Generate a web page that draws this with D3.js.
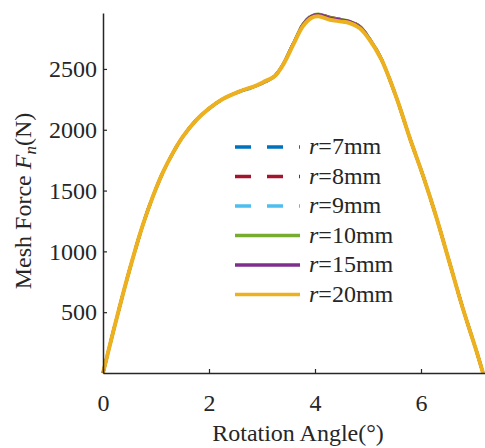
<!DOCTYPE html>
<html>
<head>
<meta charset="utf-8">
<script src="https://cdn.jsdelivr.net/npm/d3@7"></script>
<style>
  body { margin: 0; background: #fff; }
  svg text { font-family: "Liberation Serif", "Times New Roman", Times, serif; fill: #262626; }
</style>
</head>
<body>
<div id="viz"></div>
<script>
// rotation angle (deg)
var angle = [0, 0.19, 0.38, 0.57, 0.75, 0.94, 1.13, 1.32, 1.51, 1.76, 2.01, 2.26, 2.58, 2.89, 3.08, 3.24, 3.40, 3.59, 3.77, 3.93, 4.06, 4.28, 4.47, 4.65, 4.84, 5.03, 5.25, 5.54, 5.79, 6.04, 6.29, 6.54, 6.79, 7.05, 7.17];

// mesh force (N) for each fillet radius
var f7  = [0, 335, 655, 955, 1215, 1450, 1650, 1810, 1945, 2080, 2178, 2253, 2316, 2360, 2400, 2442, 2540, 2708, 2862, 2935, 2950, 2922, 2906, 2892, 2850, 2748, 2582, 2260, 1930, 1620, 1280, 905, 530, 175, 0];
var f8  = [0, 335, 655, 955, 1215, 1450, 1650, 1810, 1945, 2080, 2178, 2253, 2316, 2360, 2400, 2442, 2540, 2710, 2865, 2938, 2954, 2926, 2910, 2894, 2852, 2750, 2582, 2260, 1930, 1620, 1280, 905, 530, 175, 0];
var f9  = [0, 335, 655, 955, 1215, 1450, 1650, 1810, 1945, 2080, 2174, 2250, 2312, 2356, 2396, 2438, 2535, 2704, 2858, 2930, 2946, 2918, 2902, 2888, 2846, 2745, 2580, 2260, 1930, 1620, 1280, 905, 530, 175, 0];
var f10 = [0, 335, 655, 955, 1215, 1450, 1650, 1810, 1945, 2080, 2178, 2253, 2316, 2360, 2400, 2442, 2540, 2708, 2864, 2936, 2952, 2924, 2908, 2893, 2851, 2749, 2582, 2260, 1930, 1620, 1280, 905, 530, 175, 0];
var f15 = [0, 335, 655, 955, 1215, 1450, 1650, 1810, 1945, 2080, 2178, 2253, 2316, 2360, 2400, 2442, 2540, 2706, 2860, 2932, 2948, 2920, 2904, 2890, 2848, 2747, 2581, 2260, 1930, 1620, 1280, 905, 530, 175, 0];
var f20 = [0, 335, 655, 955, 1215, 1450, 1650, 1810, 1945, 2080, 2178, 2253, 2316, 2363, 2404, 2440, 2535, 2700, 2850, 2919, 2933, 2905, 2891, 2878, 2837, 2740, 2580, 2260, 1930, 1620, 1280, 905, 530, 175, 0];

var labels = ['7mm', '8mm', '9mm', '10mm', '15mm', '20mm'];
var colors = ['#0072BD', '#A2142F', '#4DBEEE', '#77AC30', '#7E2F8E', '#EDB120'];
var dashed = [true, true, true, false, false, false];
var forces = [f7, f8, f9, f10, f15, f20];

var xTicks = [0, 2, 4, 6];
var yTicks = [500, 1000, 1500, 2000, 2500];

var width = 485, height = 448;
var margin = {top: 13, right: 0, bottom: 75, left: 103};

var x = d3.scaleLinear().domain([0, 7.2]).range([margin.left, margin.left + 7.2 * 53]);
var y = d3.scaleLinear().domain([0, 2960]).range([height - margin.bottom, margin.top]);

var svg = d3.select('#viz').append('svg')
  .attr('width', width)
  .attr('height', height);

var line = d3.line()
  .x(function(d) { return x(d[0]); })
  .y(function(d) { return y(d[1]); })
  .curve(d3.curveCatmullRom.alpha(0.5));

forces.forEach(function(f, i) {
  svg.append('path')
    .datum(angle.map(function(a, j) { return [a, f[j]]; }))
    .attr('d', line)
    .attr('fill', 'none')
    .attr('stroke', colors[i])
    .attr('stroke-width', i == 5 ? 4 : 3)
    .attr('stroke-dasharray', dashed[i] ? '16,16' : null);
});

// axes
var xAxis = svg.append('g')
  .attr('transform', `translate(0,${y(0)})`)
  .call(d3.axisBottom(x).tickValues(xTicks).tickFormat(d3.format('d')).tickSize(-4).tickSizeOuter(0).tickPadding(21));
var yAxis = svg.append('g')
  .attr('transform', `translate(${x(0)},0)`)
  .call(d3.axisLeft(y).tickValues(yTicks).tickFormat(d3.format('d')).tickSize(-4).tickSizeOuter(0).tickPadding(6));

[xAxis, yAxis].forEach(function(g) {
  g.attr('font-family', null).attr('font-size', null);
  g.select('.domain').attr('stroke', '#262626').attr('stroke-width', 1.5);
  g.selectAll('.tick line').attr('stroke', '#262626').attr('stroke-width', 1.2);
  g.selectAll('.tick text')
    .style('font-size', '24px')
    .attr('fill', '#262626');
});

// axis titles
svg.append('text')
  .attr('x', 298)
  .attr('y', 441)
  .attr('text-anchor', 'middle')
  .style('font-size', '24px')
  .text('Rotation Angle(°)');

var yt = svg.append('text')
  .attr('transform', 'translate(31,201) rotate(-90)')
  .attr('text-anchor', 'middle')
  .style('font-size', '24px');
yt.append('tspan').text('Mesh Force ');
yt.append('tspan').style('font-style', 'italic').text('F');
yt.append('tspan').style('font-style', 'italic').style('font-size', '17px').attr('dy', 5).text('n');
yt.append('tspan').attr('dy', -5).text('(N)');

// legend
var legend = svg.append('g');
labels.forEach(function(lab, i) {
  var ly = 147 + i * 29.5;
  legend.append('line')
    .attr('x1', 235).attr('x2', 300)
    .attr('y1', ly).attr('y2', ly)
    .attr('stroke', colors[i])
    .attr('stroke-width', 3.5)
    .attr('stroke-dasharray', dashed[i] ? '16,16' : null);
  var t = legend.append('text')
    .attr('x', 309)
    .attr('y', ly + 7)
    .style('font-size', '24px');
  t.append('tspan').style('font-style', 'italic').text('r');
  t.append('tspan').text('=' + lab);
});
</script>
</body>
</html>
